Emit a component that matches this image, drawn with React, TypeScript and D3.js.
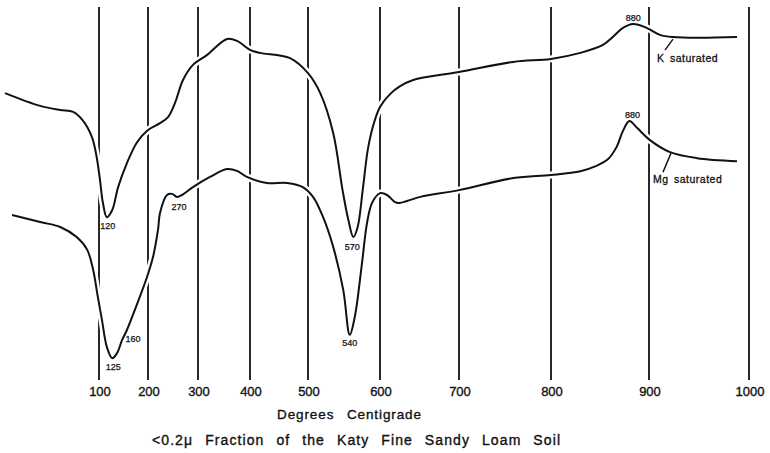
import React from 'react';
import * as d3 from 'd3';

// Temperature grid (°C) — chart paper is non-uniform
const tempTicks = [100, 200, 300, 400, 500, 600, 700, 800, 900, 1000];
const scaleTemps = [20, ...tempTicks];

// K saturated DTA trace (temperature °C, relative deflection)
const kTemp = [20, 50, 67, 78, 86, 94, 98, 102, 108, 116, 127, 139, 157, 178, 200, 224, 240, 254, 270, 290, 317, 356, 375, 400, 417, 469, 500, 517, 535, 548, 556, 563, 569, 576, 583, 590, 600, 613, 625, 642, 700, 759, 800, 830, 853, 863, 873, 884, 898, 911, 924, 951, 988];
const kVal = [77.1, 73.7, 72.6, 72.1, 69.9, 65.4, 60.1, 54.0, 47.9, 44.1, 46.0, 52.1, 58.5, 64.1, 67.3, 69.1, 70.7, 74.5, 80.6, 84.6, 87.2, 91.5, 91.0, 88.6, 87.8, 86.4, 82.4, 77.1, 66.5, 51.3, 43.4, 38.8, 41.5, 51.3, 62.0, 68.1, 73.4, 76.9, 78.9, 80.6, 82.7, 85.4, 86.2, 87.8, 89.9, 92.0, 94.4, 95.5, 94.4, 92.6, 92.0, 91.8, 92.0];

// Mg saturated DTA trace
const mgTemp = [26, 50, 67, 81, 90, 95, 99, 106, 116, 127, 137, 147, 157, 173, 198, 210, 220, 224, 238, 248, 258, 268, 290, 323, 356, 375, 394, 429, 464, 491, 507, 521, 535, 549, 558, 565, 575, 582, 589, 600, 609, 619, 625, 651, 700, 759, 800, 830, 845, 858, 867, 873, 880, 888, 901, 921, 948, 988];
const mgVal = [44.7, 42.8, 41.5, 38.8, 35.4, 30.1, 22.9, 16.8, 9.6, 6.6, 8.0, 11.4, 14.1, 19.4, 28.2, 33.5, 40.7, 45.2, 50.0, 50.3, 49.5, 50.0, 52.1, 54.8, 56.9, 56.4, 54.8, 53.2, 53.2, 52.1, 49.5, 44.1, 36.2, 24.7, 12.8, 17.6, 31.9, 42.6, 47.9, 50.5, 50.0, 48.1, 47.9, 49.5, 51.3, 54.5, 55.3, 56.3, 57.6, 59.5, 62.8, 66.8, 69.7, 67.8, 64.6, 61.4, 59.8, 59.0];

// Peak annotations
const kNoteText = ['120', '570', '880'];
const kNoteTemp = [116, 563, 884];
const kNoteVal = [44.1, 38.8, 95.5];
const mgNoteText = ['125', '160', '270', '540', '880'];
const mgNoteTemp = [127, 157, 268, 558, 880];
const mgNoteVal = [6.6, 14.1, 50.0, 12.8, 69.7];

const seriesNames = ['K saturated', 'Mg saturated'];
const seriesLabelTemp = [924, 921];
const seriesLabelVal = [92.0, 61.4];

const xTitle = 'Degrees Centigrade';
const caption = '<0.2\u03bc Fraction of the Katy Fine Sandy Loam Soil';

export default function App() {
  const W = 770;
  const H = 453;
  const font = '"Liberation Sans", Arial, sans-serif';
  const x = d3
    .scaleLinear()
    .domain(scaleTemps)
    .range([5, 99, 148, 198, 250, 308, 380, 459, 551, 649, 749]);
  const y = d3.scaleLinear().domain([0, 100]).range([383, 7]);
  const gridTop = y(100);
  const gridBottom = 380;

  const line = d3
    .line<[number, number]>()
    .x((d) => x(d[0]))
    .y((d) => y(d[1]))
    .curve(d3.curveCatmullRom.alpha(0.5));

  const kPts = kTemp.map((t, i) => [t, kVal[i]] as [number, number]);
  const mgPts = mgTemp.map((t, i) => [t, mgVal[i]] as [number, number]);
  const paths = [line(kPts) || '', line(mgPts) || ''];

  const kOff = [
    [1, 9],
    [-1, 10],
    [0, -6],
  ];
  const mgOff = [
    [1, 9],
    [6, 9],
    [-3, 12],
    [0, 8],
    [3, -6],
  ];
  const seriesOff = [
    { lx1: 0, ly1: 2, lx2: -8, ly2: 13, tx: -16, ty: 25 },
    { lx1: 1, ly1: 1, lx2: -7, ly2: 20, tx: -17, ty: 31 },
  ];
  const textStroke = { stroke: '#111', strokeWidth: 0.35 };

  return (
    <svg
      width={W}
      height={H}
      style={{ position: 'absolute', left: 0, top: 0, background: '#fff' }}
    >
      <rect x={0} y={0} width={W} height={H} fill="#fff" />
      {tempTicks.map((t) => (
        <line
          key={'g' + t}
          x1={x(t)}
          x2={x(t)}
          y1={gridTop}
          y2={gridBottom}
          stroke="#111"
          strokeWidth={1.8}
        />
      ))}
      {paths.map((p, i) => (
        <path key={'h' + i} d={p} fill="none" stroke="#fff" strokeWidth={7} />
      ))}
      {paths.map((p, i) => (
        <path
          key={'p' + i}
          d={p}
          fill="none"
          stroke="#111"
          strokeWidth={2}
          strokeLinejoin="round"
        />
      ))}
      {kNoteText.map((s, i) => (
        <text
          key={'kn' + i}
          x={x(kNoteTemp[i]) + kOff[i][0]}
          y={y(kNoteVal[i]) + kOff[i][1]}
          textAnchor="middle"
          dominantBaseline="central"
          fontFamily={font}
          fontSize={9}
          fill="#111"
          {...textStroke}
          strokeWidth={0.25}
        >
          {s}
        </text>
      ))}
      {mgNoteText.map((s, i) => (
        <text
          key={'mn' + i}
          x={x(mgNoteTemp[i]) + mgOff[i][0]}
          y={y(mgNoteVal[i]) + mgOff[i][1]}
          textAnchor="middle"
          dominantBaseline="central"
          fontFamily={font}
          fontSize={9}
          fill="#111"
          {...textStroke}
          strokeWidth={0.25}
        >
          {s}
        </text>
      ))}
      {seriesNames.map((s, i) => {
        const ax = x(seriesLabelTemp[i]);
        const ay = y(seriesLabelVal[i]);
        const o = seriesOff[i];
        return (
          <g key={'s' + i}>
            <line
              x1={ax + o.lx1}
              y1={ay + o.ly1}
              x2={ax + o.lx2}
              y2={ay + o.ly2}
              stroke="#111"
              strokeWidth={1.4}
            />
            <text
              x={ax + o.tx}
              y={ay + o.ty}
              fontFamily={font}
              fontSize={10.5}
              letterSpacing={0.5}
              wordSpacing={2}
              fill="#111"
              {...textStroke}
              strokeWidth={0.3}
            >
              {s}
            </text>
          </g>
        );
      })}
      {tempTicks.map((t) => (
        <text
          key={'t' + t}
          x={x(t) + 1}
          y={396}
          textAnchor="middle"
          fontFamily={font}
          fontSize={13}
          fill="#111"
          {...textStroke}
        >
          {t}
        </text>
      ))}
      <text
        x={277}
        y={419}
        fontFamily={font}
        fontSize={13.5}
        wordSpacing={8}
        textLength={144}
        lengthAdjust="spacing"
        fill="#111"
        {...textStroke}
      >
        {xTitle}
      </text>
      <text
        x={152}
        y={445}
        fontFamily={font}
        fontSize={14}
        wordSpacing={7}
        textLength={408}
        lengthAdjust="spacing"
        fill="#111"
        {...textStroke}
      >
        {caption}
      </text>
    </svg>
  );
}
